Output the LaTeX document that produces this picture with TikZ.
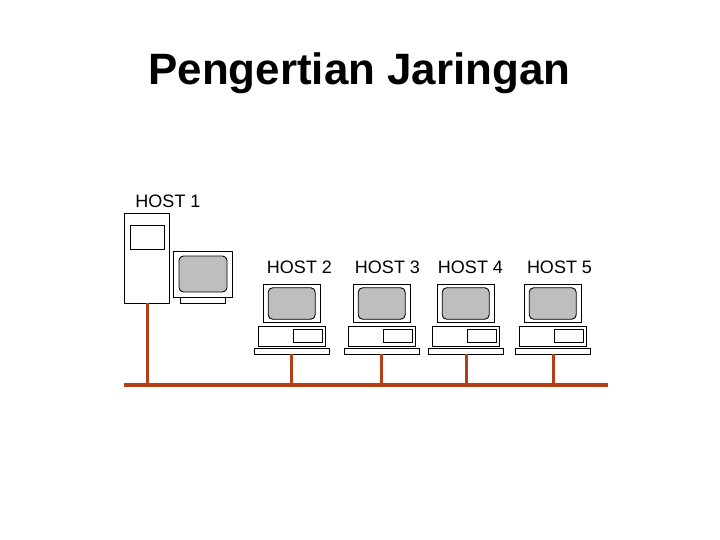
\documentclass[tikz,border=0pt]{standalone}
\usepackage{fontspec}
\setmainfont{Liberation Sans}
\definecolor{wire}{HTML}{B53F14}
\definecolor{scr}{HTML}{BEBEBE}
\tikzset{
  part/.style={draw=black,line width=0.9pt,fill=white,inner sep=0pt,outer sep=0pt,rectangle},
  screen/.style={part,fill=scr,rounded corners=4.5pt},
  hostlabel/.style={inner sep=0pt,font=\fontsize{18}{20}\selectfont,text=black},
  titletext/.style={inner sep=0pt,font=\fontsize{43.9}{48}\selectfont\bfseries,text=black},
  busbar/.style={fill=wire,draw=none,inner sep=0pt,outer sep=0pt,minimum width=484pt,minimum height=4.5pt},
  drop/.style={draw=wire,line width=3pt}
}
\newcommand{\desktop}[4]{%
  \begin{scope}[xshift=#2pt]
    \node[part,minimum width=57pt,minimum height=38.5pt] (mon#1) at (291.7,303.3) {};
    \node[screen,minimum width=47pt,minimum height=31.5pt] (scr#1) at (291.7,303.5) {};
    \node[part,minimum width=67pt,minimum height=20pt] (base#1) at (292,336) {};
    \node[part,minimum width=29.5pt,minimum height=13pt] (drive#1) at (308,335.5) {};
    \node[part,minimum width=75.5pt,minimum height=6pt] (kb#1) at (292,351) {};
    \node[hostlabel] (lab#1) at (#3,267.5) {HOST #1};
  \end{scope}
  \coordinate (tap#1) at ([xshift=#4pt]kb#1.south);
  \draw[drop] (tap#1) -- (tap#1 |- bus.center);
}
\begin{document}
\begin{tikzpicture}[x=1pt,y=-1pt]
\useasboundingbox (0,0) rectangle (720,540);
\fill[white] (0,0) rectangle (720,540);
\node[titletext] (title) at (359.5,73) {Pengertian Jaringan};
\node[busbar] (bus) at (366,385) {};
% host 1
\node[hostlabel] (lab1) at (168,201.5) {HOST 1};
\node[part,minimum width=44.5pt,minimum height=90pt] (tower) at (147,258) {};
\node[part,minimum width=34.5pt,minimum height=24pt] (bay) at (147.5,237) {};
\node[part,minimum width=59pt,minimum height=46pt] (mon1) at (202.5,274) {};
\node[screen,minimum width=48pt,minimum height=36pt] (scr1) at (203,274) {};
\node[part,minimum width=45.5pt,minimum height=5.5pt] (kb1) at (203,300.5) {};
\draw[drop] (tower.south) -- (tower.south |- bus.center);
% hosts 2-5
\desktop{2}{0}{299.5}{-1}
\desktop{3}{90}{297.5}{-1}
\desktop{4}{174}{296.5}{0}
\desktop{5}{261}{298.5}{0}
\end{tikzpicture}
\end{document}
